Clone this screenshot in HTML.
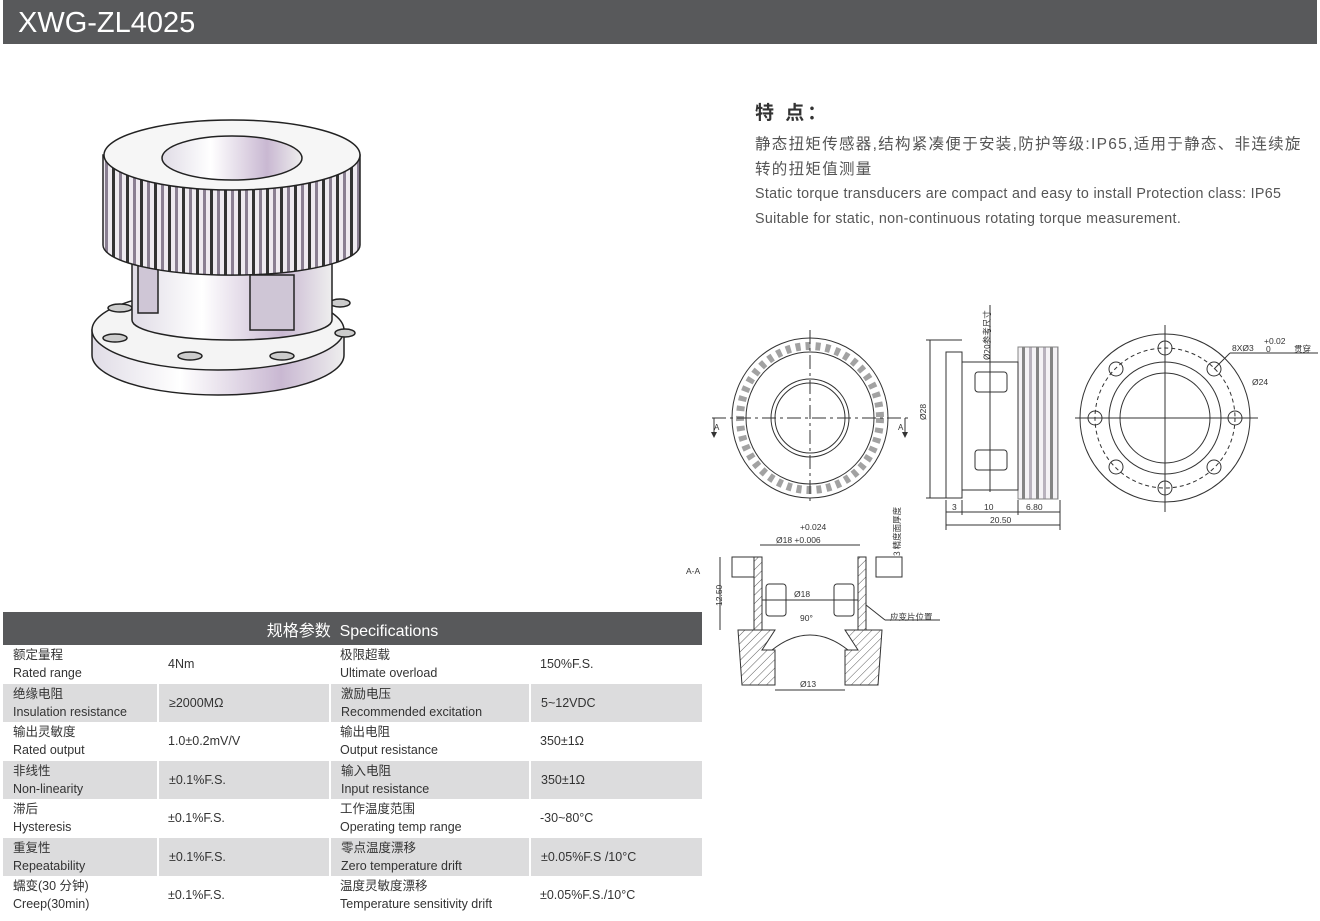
<!DOCTYPE html>
<html><head><meta charset="utf-8">
<style>
*{margin:0;padding:0;box-sizing:border-box}
body{width:1320px;height:921px;background:#fff;position:relative;overflow:hidden;font-family:"Liberation Sans","Noto Sans CJK SC",sans-serif;color:#333}
.top{position:absolute;left:3px;top:0;width:1314px;height:44px;background:#58595b;color:#fff;font-size:29px;padding-left:15px;line-height:46px}
.feat{position:absolute;left:755px;top:98px}
.feat h3{font-size:19px;font-weight:bold;color:#333;letter-spacing:3px}
.cn{position:absolute;left:755px;top:132px;white-space:nowrap;font-size:15.5px;line-height:25px;color:#555;letter-spacing:1.3px}
.en{position:absolute;left:755px;top:182px;font-size:14.3px;line-height:24.5px;color:#555;letter-spacing:0.3px}
table{position:absolute;left:3px;top:612px;width:699px;border-collapse:collapse;font-size:12.5px;color:#333}
th{background:#58595b;color:#fff;font-weight:normal;font-size:16px;height:33px;text-align:center}
td{height:38.5px;padding-left:10px;line-height:18px;vertical-align:middle}
tr.g td{background:#dcdcdd;border-left:2px solid #fff}
tr.g td:first-child{border-left:none}
</style></head><body>
<div class="top">XWG-ZL4025</div>
<div class="feat"><h3>特 点：</h3></div>
<div class="cn">静态扭矩传感器,结构紧凑便于安装,防护等级:IP65,适用于静态、非连续旋<br>转的扭矩值测量</div>
<div class="en">Static torque transducers are compact and easy to install Protection class: IP65<br>Suitable for static, non-continuous rotating torque measurement.</div>

<svg style="position:absolute;left:0;top:0" width="1320" height="921">
<defs>
<linearGradient id="mg" x1="0" x2="1">
<stop offset="0" stop-color="#e0dce6"/><stop offset="0.35" stop-color="#fff"/><stop offset="0.75" stop-color="#c9b8d2"/><stop offset="1" stop-color="#eee"/></linearGradient>
<pattern id="teeth" width="14" height="120" patternUnits="userSpaceOnUse"><rect width="14" height="120" fill="#eeeaf0"/><rect x="0" width="3" height="120" fill="#333"/><rect x="7" width="3" height="120" fill="#8a7f92"/></pattern>
<pattern id="hat" width="6" height="6" patternUnits="userSpaceOnUse" patternTransform="rotate(45)"><line x1="0" y1="0" x2="0" y2="6" stroke="#333" stroke-width="0.8"/></pattern>
</defs>
<g stroke="#222" stroke-width="1.5">
<path d="M92 330 L92 355 A126 40 0 0 0 344 355 L344 330 Z" fill="url(#mg)"/>
<ellipse cx="218" cy="330" rx="126" ry="40" fill="#f4f4f4"/>
<ellipse cx="120" cy="308" rx="12" ry="4" fill="#ccc"/><ellipse cx="115" cy="338" rx="12" ry="4" fill="#ccc"/><ellipse cx="190" cy="356" rx="12" ry="4" fill="#ccc"/><ellipse cx="282" cy="356" rx="12" ry="4" fill="#ccc"/><ellipse cx="345" cy="333" rx="10" ry="4" fill="#ccc"/><ellipse cx="340" cy="303" rx="10" ry="4" fill="#ccc"/>
<path d="M132 240 L132 320 A100 20 0 0 0 332 320 L332 240 Z" fill="url(#mg)"/>
<rect x="250" y="275" width="44" height="55" fill="#cfc6d6"/>
<rect x="138" y="258" width="20" height="55" fill="#cfc6d6"/>
<path d="M103 155 L103 245 A128 30 0 0 0 360 245 L360 155 Z" fill="url(#teeth)"/>
<ellipse cx="232" cy="155" rx="128" ry="35" fill="#f6f6f6"/>
<ellipse cx="232" cy="158" rx="70" ry="22" fill="url(#mg)"/>
</g>
<g fill="none" stroke="#333" stroke-width="1">
<ellipse cx="810" cy="418" rx="78" ry="80"/>
<ellipse cx="810" cy="418" rx="70" ry="72" stroke-width="8" stroke-dasharray="5 5" stroke="#555" opacity="0.55"/>
<ellipse cx="810" cy="418" rx="64" ry="66"/>
<circle cx="810" cy="418" r="39"/><circle cx="810" cy="418" r="35"/>
<line x1="810" y1="330" x2="810" y2="505" stroke-dasharray="14 4 3 4"/>
<line x1="712" y1="418" x2="908" y2="418" stroke-dasharray="14 4 3 4"/>
<line x1="714" y1="418" x2="714" y2="432"/><line x1="905" y1="418" x2="905" y2="432"/>
</g>
<g fill="#333" font-size="8" font-family="Liberation Sans"><path d="M711 432 L717 432 L714 438Z"/><path d="M902 432 L908 432 L905 438Z"/><text x="714" y="430">A</text><text x="898" y="430">A</text></g>
<g fill="none" stroke="#333" stroke-width="1">
<rect x="946" y="352" width="16" height="146"/>
<rect x="962" y="362" width="56" height="128"/>
<rect x="975" y="372" width="32" height="20" rx="3"/><rect x="975" y="450" width="32" height="20" rx="3"/>
<rect x="1018" y="347" width="40" height="152" fill="url(#teeth)" opacity="0.6"/>
<line x1="990" y1="305" x2="990" y2="492"/>
<line x1="930" y1="340" x2="930" y2="498"/><line x1="926" y1="340" x2="962" y2="340"/><line x1="926" y1="498" x2="946" y2="498"/>
<line x1="946" y1="500" x2="946" y2="530"/><line x1="1060" y1="500" x2="1060" y2="530"/><line x1="946" y1="525" x2="1060" y2="525"/>
<line x1="946" y1="512" x2="1060" y2="512"/><line x1="962" y1="500" x2="962" y2="515"/><line x1="1018" y1="500" x2="1018" y2="515"/>
</g>
<g fill="#333" font-size="8.5" font-family="Liberation Sans">
<text transform="translate(926 420) rotate(-90)">Ø28</text>
<text transform="translate(990 360) rotate(-90)" font-family="Noto Sans CJK SC">Ø20参考尺寸</text>
<text x="952" y="510">3</text><text x="984" y="510">10</text><text x="1026" y="510">6.80</text><text x="990" y="523">20.50</text>
</g>
<g fill="none" stroke="#333" stroke-width="1">
<ellipse cx="1165" cy="418" rx="85" ry="84"/>
<circle cx="1165" cy="418" r="70" stroke-dasharray="4 3"/>
<circle cx="1165" cy="418" r="56"/><circle cx="1165" cy="418" r="45"/>
<circle cx="1165" cy="348" r="7"/><circle cx="1165" cy="488" r="7"/><circle cx="1095" cy="418" r="7"/><circle cx="1235" cy="418" r="7"/>
<circle cx="1116" cy="369" r="7"/><circle cx="1214" cy="369" r="7"/><circle cx="1116" cy="467" r="7"/><circle cx="1214" cy="467" r="7"/>
<line x1="1165" y1="325" x2="1165" y2="512"/><line x1="1075" y1="418" x2="1258" y2="418"/>
<line x1="1214" y1="369" x2="1230" y2="353"/><line x1="1230" y1="353" x2="1318" y2="353"/>
</g>
<g fill="#333" font-size="8.5" font-family="Liberation Sans"><text x="1232" y="351">8XØ3</text><text x="1264" y="344">+0.02</text><text x="1266" y="352">0</text><text x="1294" y="352" font-family="Noto Sans CJK SC">贯穿</text><text x="1252" y="385">Ø24</text></g>
<g stroke="#333" stroke-width="1">
<rect x="732" y="557" width="22" height="20" fill="none"/><rect x="876" y="557" width="26" height="20" fill="none"/>
<path d="M754 557 L762 557 L762 630 L754 630Z" fill="url(#hat)"/>
<path d="M858 557 L866 557 L866 630 L858 630Z" fill="url(#hat)"/>
<path d="M738 630 L775 630 L762 650 L775 650 L775 685 L742 685 Z" fill="url(#hat)"/>
<path d="M882 630 L845 630 L858 650 L845 650 L845 685 L878 685 Z" fill="url(#hat)"/>
<rect x="766" y="584" width="20" height="32" rx="3" fill="none"/><rect x="834" y="584" width="20" height="32" rx="3" fill="none"/>
<path d="M772 650 Q810 620 848 650" fill="none"/>
<line x1="760" y1="545" x2="860" y2="545"/><line x1="775" y1="690" x2="845" y2="690"/>
<line x1="720" y1="557" x2="720" y2="630"/><line x1="762" y1="600" x2="858" y2="600"/>
<line x1="866" y1="605" x2="885" y2="620" fill="none"/><line x1="885" y1="620" x2="940" y2="620"/>
</g>
<g fill="#333" font-size="8.5" font-family="Liberation Sans">
<text x="686" y="574">A-A</text><text x="800" y="530">+0.024</text><text x="776" y="543">Ø18 +0.006</text>
<text x="794" y="597">Ø18</text><text x="800" y="621">90°</text><text x="800" y="687">Ø13</text>
<text transform="translate(722 606) rotate(-90)">12.50</text>
<text transform="translate(900 556) rotate(-90)" font-family="Noto Sans CJK SC">3 精度面厚度</text>
<text x="890" y="620" font-family="Noto Sans CJK SC">应变片位置</text>
</g>
</svg>

<table>
<tr><th colspan="4">规格参数 &nbsp;Specifications</th></tr>
<tr><td style="width:155px">额定量程<br>Rated range</td><td style="width:172px">4Nm</td><td style="width:200px">极限超载<br>Ultimate overload</td><td>150%F.S.</td></tr>
<tr class="g"><td>绝缘电阻<br>Insulation resistance</td><td>≥2000MΩ</td><td>激励电压<br>Recommended excitation</td><td>5~12VDC</td></tr>
<tr><td>输出灵敏度<br>Rated output</td><td>1.0±0.2mV/V</td><td>输出电阻<br>Output resistance</td><td>350±1Ω</td></tr>
<tr class="g"><td>非线性<br>Non-linearity</td><td>±0.1%F.S.</td><td>输入电阻<br>Input resistance</td><td>350±1Ω</td></tr>
<tr><td>滞后<br>Hysteresis</td><td>±0.1%F.S.</td><td>工作温度范围<br>Operating temp range</td><td>-30~80°C</td></tr>
<tr class="g"><td>重复性<br>Repeatability</td><td>±0.1%F.S.</td><td>零点温度漂移<br>Zero temperature drift</td><td>±0.05%F.S /10°C</td></tr>
<tr><td>蠕变(30 分钟)<br>Creep(30min)</td><td>±0.1%F.S.</td><td>温度灵敏度漂移<br>Temperature sensitivity drift</td><td>±0.05%F.S./10°C</td></tr>
</table>
</body></html>
